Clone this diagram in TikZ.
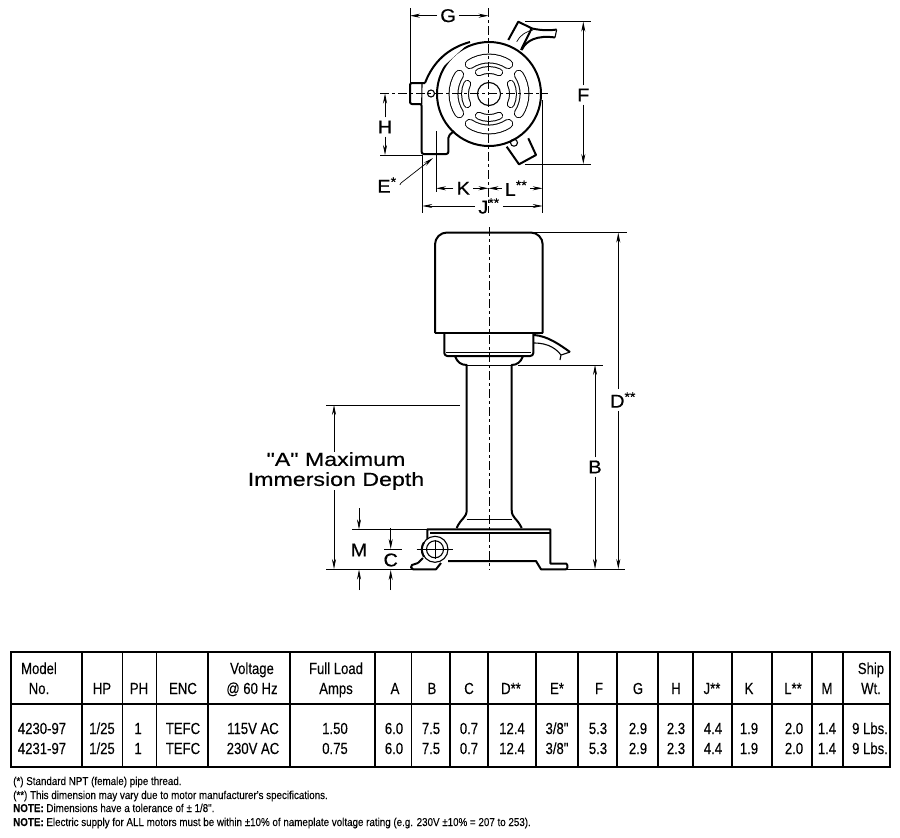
\documentclass[tikz,border=0pt]{standalone}
\usepackage{fontspec}
\usepackage{tikz}
\usetikzlibrary{arrows.meta}
\setmainfont{Liberation Sans}
\newfontfamily\tablefont[FakeStretch=0.82,FakeBold=0.15]{Liberation Sans}
\newfontfamily\notefont[FakeStretch=0.86,FakeBold=0.1]{Liberation Sans}
\newfontfamily\dimfont[FakeStretch=1.08,FakeBold=0.5]{Liberation Sans}
\newfontfamily\depthfont[FakeStretch=1.22,FakeBold=0.5]{Liberation Sans}
\tikzset{
  heavy/.style={line width=2pt, line join=round},
  medium/.style={line width=1.1pt},
  thin line/.style={line width=0.7pt},
  centerline/.style={line width=0.8pt, dash pattern=on 9pt off 3pt on 3pt off 3pt},
  dimline/.style={line width=0.7pt, -{Stealth[length=10pt,width=4pt]}},
  dimlabel/.style={font=\dimfont\fontsize{18.5}{20}\selectfont, inner sep=3pt},
  cellnode/.style={font=\tablefont\fontsize{16}{18}\selectfont, anchor=base, inner sep=0pt},
  notenode/.style={font=\notefont\fontsize{11.4}{13}\selectfont, anchor=base west, inner sep=0pt},
  rule/.style={line width=1.1pt}
}
\begin{document}
\begin{tikzpicture}[x=1pt,y=-1pt]
\useasboundingbox (0,0) rectangle (900,838);
% end view
\coordinate (hub) at (489,94);
\draw [heavy] (hub) circle (52);
\draw [medium] (hub) circle (11.5);
\foreach \ang in {0,90,180,270} {
  \draw [line width=9.8pt, line cap=round] (hub) ++(\ang-33:35.5) arc [start angle=\ang-33, end angle=\ang+33, radius=35.5];
  \draw [white, line width=7.8pt, line cap=round] (hub) ++(\ang-33:35.5) arc [start angle=\ang-33, end angle=\ang+33, radius=35.5];
  \draw [line width=7.8pt, line cap=round] (hub) ++(\ang-25:24) arc [start angle=\ang-25, end angle=\ang+25, radius=24];
  \draw [white, line width=5.8pt, line cap=round] (hub) ++(\ang-25:24) arc [start angle=\ang-25, end angle=\ang+25, radius=24];
}
\draw [centerline] (380,93.5) -- (548,93.5);
\draw [centerline] (488.5,8) -- (488.5,213);
\draw [heavy, fill=white] (425,83) .. controls (433,62) and (448,48) .. (470,42);
\draw [heavy, rounded corners=2] (425,83) -- (410,83) -- (410,104) -- (421.7,104) -- (421.7,154) -- (448.3,154) -- (448.3,136) -- (454,131);
\draw [medium] (422,84) -- (421.7,104);
\draw [medium] (431,93.5) circle (3.5);
\draw [heavy] (508.3,40) -- (518.3,21.7) -- (531.7,28.3) -- (521,50);
\draw [heavy] (530,28) .. controls (538,30) and (548,31) .. (556.7,29.5);
\draw [heavy] (521.7,50) .. controls (526,40) and (538,35) .. (555,37.5);
\draw [thin line] (516.7,41.7) .. controls (520,35) and (527,31) .. (533,30);
\draw [medium] (556.7,29.5) -- (555,37.5);
\draw [heavy, fill=white] (506.7,146.7) -- (519,164.3) -- (536,155) -- (528.3,138.3);
\draw [medium] (514,142.7) circle (3.5);
% dimensions of end view
\coordinate (Gleft) at (410,15.7);
\coordinate (Gright) at (488.5,15.7);
\node [dimlabel] (lblG) at (448,15.7) {G};
\draw [dimline] (lblG) -- (Gleft);
\draw [dimline] (lblG) -- (Gright);
\draw [thin line] (410,8) -- (410,83);
\coordinate (Ftop) at (583.3,21.7);
\coordinate (Fbot) at (583.3,164);
\node [dimlabel] (lblF) at (583.3,95) {F};
\draw [dimline] (lblF) -- (Ftop);
\draw [dimline] (lblF) -- (Fbot);
\draw [thin line] (525,21.7) -- (591,21.7);
\draw [thin line] (525,164) -- (591,164);
\coordinate (Htop) at (385,93.5);
\coordinate (Hbot) at (385,155);
\node [dimlabel] (lblH) at (385,127) {H};
\draw [dimline] (lblH) -- (Htop);
\draw [dimline] (lblH) -- (Hbot);
\draw [thin line] (380,155) -- (422,155);
\coordinate (Etip) at (433,158);
\node [dimlabel] (lblE) at (387,185) {E\textsuperscript{*}};
\draw [dimline] (lblE.east) -- (401,183) -- (Etip);
\draw [thin line] (436,131) -- (436,192);
\draw [thin line] (422.3,155) -- (422.3,213);
\draw [thin line] (542.7,100) -- (542.7,213);
\coordinate (Kleft) at (436,188.3);
\coordinate (Kright) at (488.5,188.3);
\coordinate (Lleft) at (488.5,188.3);
\coordinate (Lright) at (542.7,188.3);
\node [dimlabel] (lblK) at (463.3,188.3) {K};
\node [dimlabel] (lblL) at (516,188.3) {L\textsuperscript{**}};
\draw [dimline] (lblK) -- (Kleft);
\draw [dimline] (lblK) -- (Kright);
\draw [dimline] (lblL) -- (Lleft);
\draw [dimline] (lblL) -- (Lright);
\coordinate (Jleft) at (422.3,206);
\coordinate (Jright) at (542.7,206);
\node [dimlabel] (lblJ) at (489,206) {J\textsuperscript{**}};
\draw [dimline] (lblJ) -- (Jleft);
\draw [dimline] (lblJ) -- (Jright);
% side view
\draw [centerline] (489,227) -- (489,570);
\draw [heavy, rounded corners=12] (435,333) -- (435,232.5) -- (542.7,232.5) -- (542.7,333);
\draw [heavy] (435,333) -- (444.3,333);
\draw [heavy] (533.3,333) -- (542.7,333);
\draw [medium] (444.3,333) -- (533.3,333);
\draw [heavy, rounded corners=3] (444.3,333) -- (444.3,356) -- (533.3,356) -- (533.3,333);
\draw [thin line] (446,352.5) -- (531,352.5);
\draw [heavy] (534,335) .. controls (548,336) and (560,345) .. (570,352);
\draw [medium] (534,343) .. controls (550,343) and (557,350) .. (561,355);
\draw [medium] (570,352) -- (561,355) -- (560,360);
\draw [heavy] (455,356) .. controls (457,362) and (461,365) .. (466.7,365) -- (466.7,510) .. controls (466.7,518) and (461,518) .. (456.7,528);
\draw [heavy] (523,356) .. controls (521,362) and (517,365) .. (511.7,365) -- (511.7,510) .. controls (511.7,518) and (517,518) .. (521.7,528);
\draw [thin line] (466.7,365) -- (511.7,365);
\draw [thin line] (466.7,519) -- (511.7,519);
\draw [heavy] (427.3,540) -- (427.3,529.3) -- (550.3,529.3) -- (550.3,563.5) -- (566,563.5) .. controls (568,564) and (568,569) .. (566,569.3) -- (541,569.3) -- (536,561) -- (448,561);
\draw [medium] (430,533) -- (550,533);
\draw [heavy] (418,563) -- (412,565) .. controls (410,566) and (411,569) .. (413,569.3) -- (436,569.3) -- (441,563);
\draw [heavy] (418,563) -- (423,558);
\coordinate (pipe) at (435,549.3);
\draw [medium, fill=white] (pipe) circle (13);
\draw [heavy] (pipe) ++(-11,-7) arc [start angle=-146, end angle=-214, radius=13];
\draw [medium] (pipe) circle (8.5);
\draw [thin line] (416.7,549.3) -- (453,549.3);
\draw [thin line] (435,540) -- (435,559);
% dimensions of side view
\draw [thin line] (511,232.7) -- (626.7,232.7);
\draw [thin line] (518,365) -- (602.7,365);
\draw [thin line] (326,569) -- (420,569);
\draw [thin line] (566,569) -- (625,569);
\draw [thin line] (326,405) -- (460,405);
\draw [thin line] (352.3,529.3) -- (428,529.3);
\draw [thin line] (384,549) -- (402,549);
\coordinate (Dtop) at (618.3,232.7);
\coordinate (Dbot) at (618.3,569);
\node [dimlabel] (lblD) at (623,400) {D\textsuperscript{**}};
\draw [dimline] (lblD.north -| Dtop) -- (Dtop);
\draw [dimline] (lblD.south -| Dbot) -- (Dbot);
\coordinate (Btop) at (595,365);
\coordinate (Bbot) at (595,569);
\node [dimlabel] (lblB) at (595,467) {B};
\draw [dimline] (lblB) -- (Btop);
\draw [dimline] (lblB) -- (Bbot);
\coordinate (Atop) at (334,405);
\coordinate (Abot) at (334,569);
\node [align=center, inner sep=0pt, font=\depthfont\fontsize{19}{20}\selectfont] (lblA) at (336,471) {"A" Maximum\\Immersion Depth};
\draw [dimline] (lblA.north -| Atop) -- (Atop);
\draw [dimline] (lblA.south -| Abot) -- (Abot);
\coordinate (Mtop) at (359,529.3);
\coordinate (Mbot) at (359,569.5);
\coordinate (Mfara) at (359,508);
\coordinate (Mfarb) at (359,590);
\node [dimlabel] (lblM) at (359,550) {M};
\draw [dimline] (Mfara) -- (Mtop);
\draw [dimline] (Mfarb) -- (Mbot);
\coordinate (Ctop) at (390.7,549);
\coordinate (Cbot) at (390.7,570);
\coordinate (Cfara) at (390.7,528);
\coordinate (Cfarb) at (390.7,590);
\node [dimlabel, inner sep=1pt] (lblC) at (390.7,560) {C};
\draw [dimline] (Cfara) -- (Ctop);
\draw [dimline] (Cfarb) -- (Cbot);
% table
\draw [rule] (11,652) rectangle (890,767);
\draw [rule] (11,704) -- (890,704);
\foreach \cx in {82,122.7,156.7,208,290,375,411.7,450,488,536,578,617,658,693,732,772,812,843}
  \draw [rule] (\cx,652) -- (\cx,767);
\foreach \cx/\cy/\txt [count=\i] in {
  39/674/Model, 39/694/No., 102/694/HP, 139/694/PH, 183/694/ENC, 252/674/Voltage, 252/694/@ 60 Hz,
  336/674/Full Load, 336/694/Amps, 395/694/A, 432/694/B, 469/694/C, 511/694/D**, 557/694/E*, 599/694/F,
  638/694/G, 676/694/H, 712/694/J**, 749/694/K, 793/694/L**, 827/694/M, 871/674/Ship, 871/694/Wt.}
  \node [cellnode] (head\i) at (\cx,\cy) {\txt};
\foreach \cx/\rowa/\rowb [count=\i] in {
  42/4230-97/4231-97, 102/1\slash 25/1\slash 25, 138/1/1, 183/TEFC/TEFC, 253/115V AC/230V AC, 335/1.50/0.75,
  394/6.0/6.0, 431/7.5/7.5, 469/0.7/0.7, 512/12.4/12.4, 557/3\slash 8"/3\slash 8", 598/5.3/5.3,
  638/2.9/2.9, 676/2.3/2.3, 713/4.4/4.4, 749/1.9/1.9, 794/2.0/2.0, 827/1.4/1.4, 870/9 Lbs./9 Lbs.} {
  \node [cellnode] (rowa\i) at (\cx,734) {\rowa};
  \node [cellnode] (rowb\i) at (\cx,754) {\rowb};
}
% notes
\node [notenode] (noteA) at (13,785) {(*) Standard NPT (female) pipe thread.};
\node [notenode] (noteB) at (13,799) {(**) This dimension may vary due to motor manufacturer's specifications.};
\node [notenode] (noteC) at (13,812) {\textbf{NOTE:} Dimensions have a tolerance of ± 1/8".};
\node [notenode] (noteD) at (13,826) {\textbf{NOTE:} Electric supply for ALL motors must be within ±10\% of nameplate voltage rating (e.g. 230V ±10\% = 207 to 253).};
\end{tikzpicture}
\end{document}
